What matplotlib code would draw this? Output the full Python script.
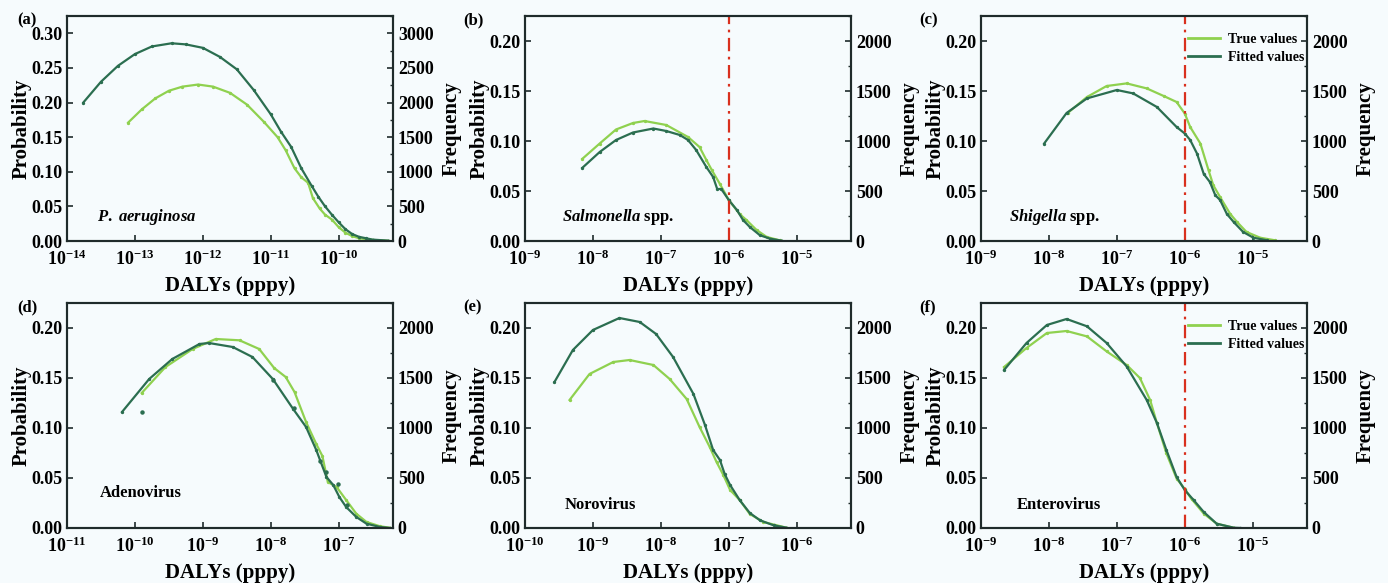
# DALYs probability / frequency curves, six pathogens
import numpy as np
import matplotlib.pyplot as plt
from matplotlib.ticker import MultipleLocator, NullLocator, LogLocator

plt.rcParams['font.family'] = 'Liberation Serif'
plt.rcParams['font.weight'] = 'bold'
plt.rcParams['axes.labelweight'] = 'bold'
plt.rcParams['mathtext.fontset'] = 'custom'
plt.rcParams['mathtext.rm'] = 'Liberation Serif:bold'
plt.rcParams['mathtext.it'] = 'Liberation Serif:italic:bold'
plt.rcParams['mathtext.bf'] = 'Liberation Serif:bold'
plt.rcParams['mathtext.default'] = 'rm'

# Data (x as log10 of DALYs, y as probability)
# (a) P. aeruginosa
a_true_x = [-13.10, -12.9, -12.7, -12.5, -12.3, -12.07, -11.85, -11.6, -11.35, -11.1, -10.9, -10.78,
            -10.65, -10.55, -10.45, -10.38, -10.28, -10.2, -10.1, -10.0, -9.9, -9.8, -9.7, -9.5, -9.27]
a_true_y = [0.171, 0.190, 0.206, 0.217, 0.223, 0.226, 0.223, 0.214, 0.197, 0.172, 0.150, 0.131,
            0.105, 0.092, 0.084, 0.062, 0.047, 0.038, 0.031, 0.020, 0.012, 0.007, 0.004, 0.0015, 0.0003]
a_fit_x = [-13.76, -13.5, -13.25, -13.0, -12.75, -12.46, -12.25, -12.0, -11.75, -11.5, -11.25, -11.0,
           -10.85, -10.7, -10.55, -10.4, -10.3, -10.2, -10.1, -10.0, -9.9, -9.8, -9.7, -9.6, -9.5, -9.27]
a_fit_y = [0.200, 0.230, 0.253, 0.270, 0.281, 0.2856, 0.284, 0.279, 0.266, 0.248, 0.218, 0.183,
           0.158, 0.136, 0.105, 0.080, 0.064, 0.050, 0.038, 0.027, 0.017, 0.010, 0.006, 0.004, 0.002, 0.0005]

# (b) Salmonella spp.
b_true_x = [-8.157, -7.9, -7.66, -7.41, -7.24, -6.92, -6.60, -6.43, -6.33, -6.25, -6.13, -6.0,
            -5.84, -5.74, -5.59, -5.44, -5.25]
b_true_y = [0.0821, 0.0975, 0.1115, 0.118, 0.120, 0.116, 0.104, 0.094, 0.081, 0.071, 0.057, 0.041,
            0.027, 0.021, 0.011, 0.004, 0.0007]
b_fit_x = [-8.157, -7.9, -7.66, -7.41, -7.11, -6.92, -6.72, -6.60, -6.48, -6.33, -6.23, -6.17, -6.11,
           -6.0, -5.88, -5.79, -5.69, -5.54, -5.39, -5.22]
b_fit_y = [0.0731, 0.089, 0.101, 0.1085, 0.1125, 0.110, 0.106, 0.101, 0.091, 0.074, 0.064, 0.052, 0.052,
           0.041, 0.031, 0.021, 0.014, 0.0057, 0.0023, 0.0003]

# (c) Shigella spp.
c_true_x = [-7.715, -7.44, -7.15, -6.855, -6.56, -6.31, -6.12, -6.0, -5.92, -5.77, -5.65, -5.58,
            -5.48, -5.33, -5.23, -5.09, -4.89, -4.67]
c_true_y = [0.1285, 0.144, 0.155, 0.1576, 0.1526, 0.145, 0.139, 0.1275, 0.114, 0.0975, 0.0708, 0.0558,
            0.044, 0.027, 0.019, 0.009, 0.0033, 0.0007]
c_fit_x = [-8.07, -7.74, -7.44, -7.0, -6.76, -6.41, -6.12, -6.0, -5.92, -5.82, -5.72, -5.63, -5.55,
           -5.48, -5.38, -5.28, -5.14, -4.99, -4.79]
c_fit_y = [0.0975, 0.128, 0.1426, 0.151, 0.1476, 0.134, 0.114, 0.1075, 0.101, 0.0875, 0.067, 0.059,
           0.0457, 0.041, 0.027, 0.019, 0.009, 0.0033, 0.0007]

# (d) Adenovirus
d_true_x = [-9.90, -9.55, -9.15, -8.81, -8.46, -8.17, -7.95, -7.78, -7.65, -7.48, -7.33, -7.24,
            -7.16, -7.03, -6.89, -6.74, -6.59, -6.39, -6.25]
d_true_y = [0.135, 0.161, 0.179, 0.189, 0.1877, 0.179, 0.160, 0.151, 0.136, 0.106, 0.084, 0.072,
            0.046, 0.041, 0.028, 0.0143, 0.006, 0.0017, 0.0003]
d_fit_x = [-10.19, -9.79, -9.45, -9.05, -8.91, -8.56, -8.27, -7.97, -7.67, -7.48, -7.33, -7.18,
           -7.08, -6.99, -6.89, -6.74, -6.59, -6.39, -6.25]
d_fit_y = [0.116, 0.149, 0.169, 0.184, 0.185, 0.181, 0.171, 0.149, 0.119, 0.101, 0.078, 0.051,
           0.043, 0.031, 0.021, 0.011, 0.0043, 0.001, 0.0]
d_fit_dots_x = [-9.90, -7.96, -7.66, -7.27, -7.18, -7.01, -6.87]
d_fit_dots_y = [0.116, 0.148, 0.120, 0.067, 0.056, 0.044, 0.023]

# (e) Norovirus
e_true_x = [-9.344, -9.05, -8.70, -8.46, -8.11, -7.87, -7.62, -7.43, -7.28, -7.18, -7.08, -6.98,
            -6.84, -6.69, -6.49, -6.15]
e_true_y = [0.128, 0.154, 0.166, 0.168, 0.163, 0.149, 0.129, 0.101, 0.081, 0.066, 0.053, 0.038,
            0.028, 0.014, 0.006, 0.0003]
e_fit_x = [-9.566, -9.295, -9.0, -8.61, -8.31, -8.07, -7.82, -7.52, -7.35, -7.23, -7.13, -7.06,
           -6.98, -6.84, -6.69, -6.54, -6.34, -6.15]
e_fit_y = [0.146, 0.178, 0.198, 0.210, 0.206, 0.194, 0.171, 0.134, 0.103, 0.078, 0.068, 0.054,
           0.043, 0.028, 0.015, 0.0077, 0.0027, 0.0003]

# (f) Enterovirus
f_true_x = [-8.66, -8.33, -8.03, -7.74, -7.44, -7.15, -6.855, -6.66, -6.51, -6.41, -6.27, -6.12,
            -6.0, -5.90, -5.72, -5.53, -5.28]
f_true_y = [0.161, 0.180, 0.195, 0.197, 0.1916, 0.1766, 0.163, 0.150, 0.128, 0.105, 0.0746, 0.0495,
            0.039, 0.029, 0.0144, 0.0043, 0.0003]
f_fit_x = [-8.66, -8.33, -8.03, -7.74, -7.44, -7.15, -6.855, -6.56, -6.41, -6.27, -6.12, -6.0,
           -5.87, -5.72, -5.53, -5.28, -5.18]
f_fit_y = [0.158, 0.185, 0.203, 0.209, 0.2017, 0.185, 0.1615, 0.128, 0.105, 0.078, 0.051, 0.038,
           0.028, 0.016, 0.0043, 0.0003, 0.0]

panels = [
    ('(a)', r'$\mathit{P.\ aeruginosa}$', a_true_x, a_true_y, a_fit_x, a_fit_y, -14, 0.325, False, False),
    ('(b)', r'$\mathit{Salmonella}$ spp.', b_true_x, b_true_y, b_fit_x, b_fit_y, -9, 0.225, True, False),
    ('(c)', r'$\mathit{Shigella}$ spp.', c_true_x, c_true_y, c_fit_x, c_fit_y, -9, 0.225, True, True),
    ('(d)', 'Adenovirus', d_true_x, d_true_y, d_fit_x, d_fit_y, -11, 0.225, False, False),
    ('(e)', 'Norovirus', e_true_x, e_true_y, e_fit_x, e_fit_y, -10, 0.225, False, False),
    ('(f)', 'Enterovirus', f_true_x, f_true_y, f_fit_x, f_fit_y, -9, 0.225, True, True),
]
name_pos = [(0.092, 0.107), (0.113, 0.107), (0.086, 0.107), (0.101, 0.156), (0.122, 0.102), (0.110, 0.102)]

light = '#8fd14f'
dark = '#2b6e50'
bg = '#f6fbfd'
edge = '#1f2b2b'

fig = plt.figure(figsize=(13.88, 5.83), dpi=100, facecolor=bg)
lefts = [67, 525, 981]
tops = [16, 303]
W, H = 1388.0, 583.0

for i, (lab, name, tx, ty, fx, fy, xlo, ymax, vline, leg) in enumerate(panels):
    row, col = divmod(i, 3)
    l = lefts[col]
    t = tops[row]
    ax = fig.add_axes([l / W, 1 - (t + 225) / H, 326 / W, 225 / H])
    ax.set_facecolor(bg)
    p1, = ax.plot(10.0 ** np.array(tx), ty, '-o', color=light, lw=1.6, ms=1.4, label='True values')
    p2, = ax.plot(10.0 ** np.array(fx), fy, '-o', color=dark, lw=1.6, ms=1.4, label='Fitted values')
    if i == 3:
        ax.plot(10.0 ** np.array(d_fit_dots_x), d_fit_dots_y, 'o', color=dark, ms=2.2)
    if vline:
        ax.axvline(1e-6, color='#d9301e', lw=1.6, ls=(0, (6, 2.5, 1.2, 2.5)))
    ax.set_xscale('log')
    ax.set_xlim(10.0 ** xlo, 10.0 ** (xlo + 4.8))
    ax.set_ylim(0, ymax)
    ax.xaxis.set_major_locator(LogLocator(base=10, numticks=10))
    ax.xaxis.set_minor_locator(NullLocator())
    ax.yaxis.set_major_locator(MultipleLocator(0.05))
    ax.yaxis.set_major_formatter(plt.FuncFormatter(lambda v, p: '%.2f' % v))
    ax.tick_params(direction='in', length=4, width=1.2, labelsize=13, colors=edge, labelcolor='black')
    ax.tick_params(axis='x', pad=6)
    for s in ax.spines.values():
        s.set_linewidth(1.5)
        s.set_color(edge)
    ax.set_xlabel('DALYs (pppy)', fontsize=15)
    ax.xaxis.set_label_coords(0.5, -0.156)
    ax.set_ylabel('Probability', fontsize=15)
    ax.yaxis.set_label_coords(-0.108, 0.5)
    ax.text(name_pos[i][0], name_pos[i][1], name, transform=ax.transAxes, fontsize=12,
            ha='left', va='center')

    ax2 = ax.twinx()
    ax2.set_ylim(0, ymax * 10000)
    ax2.yaxis.set_major_locator(MultipleLocator(500))
    ax2.yaxis.set_minor_locator(MultipleLocator(250))
    ax2.tick_params(which='major', direction='in', length=4, width=1.2, labelsize=13, colors=edge,
                    labelcolor='black')
    ax2.tick_params(which='minor', direction='in', length=2, width=1.0, colors=edge)
    ax2.set_ylabel('Frequency', fontsize=15)
    ax2.yaxis.set_label_coords(1.148, 0.5)
    for s in ax2.spines.values():
        s.set_linewidth(1.5)
        s.set_color(edge)

    if leg:
        ax.legend(handles=[p1, p2], loc='upper right', frameon=False, fontsize=10,
                  handlelength=2.3, handletextpad=0.6, borderaxespad=0.0, labelspacing=0.35,
                  bbox_to_anchor=(1.01, 0.95))
        for h in ax.get_legend().legend_handles:
            h.set_marker('')
            h.set_linewidth(2.0)

    fig.text((17 if col == 0 else l - 62) / W, 1 - (t + 4) / H, lab, fontsize=12, ha='left', va='center')

plt.savefig('out.png', dpi=100, facecolor=bg)
